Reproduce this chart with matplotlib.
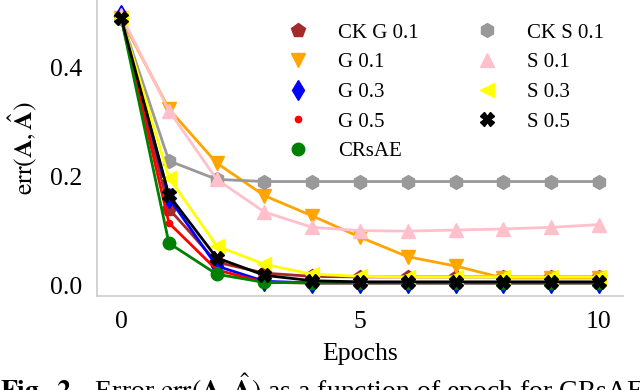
import numpy as np
import matplotlib
matplotlib.use("Agg")
import matplotlib.pyplot as plt

plt.rcParams['font.family'] = ['Liberation Serif', 'DejaVu Serif']
plt.rcParams['mathtext.fontset'] = 'stix'

epochs = np.arange(0, 11)

ck_g01 = [0.49, 0.140, 0.042, 0.022, 0.016, 0.015, 0.015, 0.015, 0.015, 0.015, 0.015]
g01    = [0.49, 0.323, 0.224, 0.164, 0.127, 0.088, 0.052, 0.035, 0.013, 0.013, 0.013]
g03    = [0.495, 0.160, 0.035, 0.007, 0.004, 0.004, 0.004, 0.004, 0.004, 0.004, 0.004]
g05    = [0.49, 0.114, 0.028, 0.005, 0.004, 0.004, 0.004, 0.004, 0.004, 0.004, 0.004]
crsae  = [0.49, 0.077, 0.020, 0.005, 0.004, 0.004, 0.004, 0.004, 0.004, 0.004, 0.004]
ck_s01 = [0.49, 0.228, 0.194, 0.190, 0.190, 0.190, 0.190, 0.190, 0.190, 0.190, 0.190]
s01    = [0.495, 0.320, 0.194, 0.134, 0.106, 0.100, 0.099, 0.101, 0.103, 0.106, 0.111]
s03    = [0.49, 0.197, 0.072, 0.038, 0.020, 0.016, 0.015, 0.015, 0.015, 0.015, 0.015]
s05    = [0.49, 0.165, 0.050, 0.018, 0.008, 0.006, 0.006, 0.006, 0.006, 0.006, 0.006]

series = [
    ('CK G 0.1', ck_g01, '#a52a2a', 'p', 10),
    ('G 0.1', g01, '#ffa500', 'v', 10),
    ('G 0.3', g03, '#0000ff', 'd', 10),
    ('G 0.5', g05, '#ff0000', '.', 9),
    ('CRsAE', crsae, '#008000', 'o', 9),
    ('CK S 0.1', ck_s01, '#999999', 'h', 10),
    ('S 0.1', s01, '#ffc0cb', '^', 10),
    ('S 0.3', s03, '#ffff00', '<', 10),
    ('S 0.5', s05, '#000000', 'X', 10),
]

fig = plt.figure(figsize=(6.4, 3.9), dpi=100)
ax = fig.add_axes([0.152, 0.241, 0.821, 0.759])

for name, vals, col, mk, ms in series:
    ax.plot(epochs, vals, color=col, marker=mk, markersize=ms, linewidth=2, label=name)

ax.set_xlim(-0.5, 10.5)
ax.set_ylim(-0.02, 0.523)
ax.set_xticks([0, 5, 10])
ax.set_yticks([0.0, 0.2, 0.4])
ax.tick_params(length=0, labelsize=18.5, pad=11)
for s in ['top', 'right']:
    ax.spines[s].set_visible(False)
for s in ['left', 'bottom']:
    ax.spines[s].set_color('#cccccc')
    ax.spines[s].set_linewidth(1.2)

ax.set_xlabel('Epochs', fontsize=18.5, labelpad=7)
ax.set_ylabel(r'$\mathrm{err}(\mathbf{A},\hat{\mathbf{A}})$', fontsize=18.5, labelpad=8)

leg = ax.legend(ncol=2, loc='upper right', frameon=False, fontsize=15,
                bbox_to_anchor=(1.0, 0.985), columnspacing=2.3, handletextpad=0.9,
                labelspacing=0.48)
for h in leg.legend_handles:
    h.set_linestyle('None')

fig.text(0.0, 0.048, r'$\mathbf{Fig.\ 2.}$  Error $\mathrm{err}(\mathbf{A},\hat{\mathbf{A}})$ as a function of epoch for CRsAE',
         fontsize=20, va='top', ha='left')

fig.savefig('out.png', dpi=100)
